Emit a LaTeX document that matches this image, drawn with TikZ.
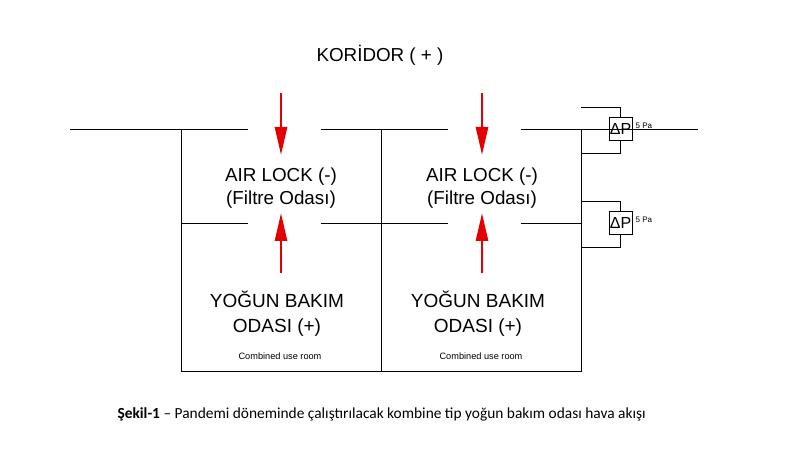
\documentclass[tikz,border=0pt]{standalone}
\usepackage{fontspec}
\setmainfont{Liberation Sans}
\newfontfamily\capfont{Carlito}
\usetikzlibrary{arrows.meta}
\definecolor{arrred}{RGB}{228,0,0}
\tikzset{
  wall/.style={line width=0.9pt, black},
  flow/.style={line width=2.6pt, arrred, -{Triangle[length=28pt,width=12pt]}},
  dpbox/.style={draw, line width=0.9pt, minimum width=23pt, minimum height=23pt, inner sep=0pt, font=\fontsize{16}{16}\selectfont},
  pa/.style={font=\fontsize{8}{8}\selectfont, anchor=west, inner sep=1pt},
  roomtxt/.style={align=center, font=\fontsize{18.8}{23}\selectfont},
  bigtxt/.style={align=center, font=\fontsize{19}{25}\selectfont},
  smalltxt/.style={font=\fontsize{9.2}{9}\selectfont}
}
\begin{document}
\begin{tikzpicture}[x=1pt,y=-1pt]
\useasboundingbox (0,0) rectangle (800,470);
% corridor wall
\draw[wall] (70,129) -- (248,129);
\draw[wall] (321,129) -- (448,129);
\draw[wall] (521,129) -- (698,129);
% middle wall
\draw[wall] (181,223) -- (248,223);
\draw[wall] (321,223) -- (448,223);
\draw[wall] (521,223) -- (581,223);
% verticals and bottom
\draw[wall] (181,129) -- (181,371) -- (581,371) -- (581,129);
\draw[wall] (381,129) -- (381,371);
% delta P boxes
\node[dpbox] (dp1) at (620.5,128.5) {ΔP};
\node[dpbox] (dp2) at (620.5,222.5) {ΔP};
\node[pa] (pa1) at ([xshift=2pt,yshift=3pt]dp1.east) {5 Pa};
\node[pa] (pa2) at ([xshift=2pt,yshift=3pt]dp2.east) {5 Pa};
\draw[wall] (581,107) -| (dp1.north);
\draw[wall] (dp1.south) |- (581,153);
\draw[wall] (581,201) -| (dp2.north);
\draw[wall] (dp2.south) |- (581,247);
% arrows
\coordinate (a1s) at (281,93);  \coordinate (a1e) at (281,155);
\coordinate (b1s) at (281,273); \coordinate (b1e) at (281,213);
\coordinate (a2s) at (482,93);  \coordinate (a2e) at (482,155);
\coordinate (b2s) at (482,273); \coordinate (b2e) at (482,213);
\draw[flow] (a1s) -- (a1e);
\draw[flow] (b1s) -- (b1e);
\draw[flow] (a2s) -- (a2e);
\draw[flow] (b2s) -- (b2e);
% texts
\node[roomtxt] (kor) at (380,55) {KORİDOR ( + )};
\node[roomtxt] (al1) at (281,188) {AIR LOCK (-)\\(Filtre Odası)};
\node[roomtxt] (al2) at (482,188) {AIR LOCK (-)\\(Filtre Odası)};
\node[bigtxt] (yb1) at (277,314) {YOĞUN BAKIM\\ODASI (+)};
\node[bigtxt] (yb2) at (478,314) {YOĞUN BAKIM\\ODASI (+)};
\node[smalltxt] (cu1) at (280,356) {Combined use room};
\node[smalltxt] (cu2) at (481,356) {Combined use room};
\node[font=\capfont\fontsize{15.4}{16}\selectfont, anchor=west] (cap) at (114,414) {\textbf{Şekil-1} – Pandemi döneminde çalıştırılacak kombine tip yoğun bakım odası hava akışı};
\end{tikzpicture}
\end{document}
